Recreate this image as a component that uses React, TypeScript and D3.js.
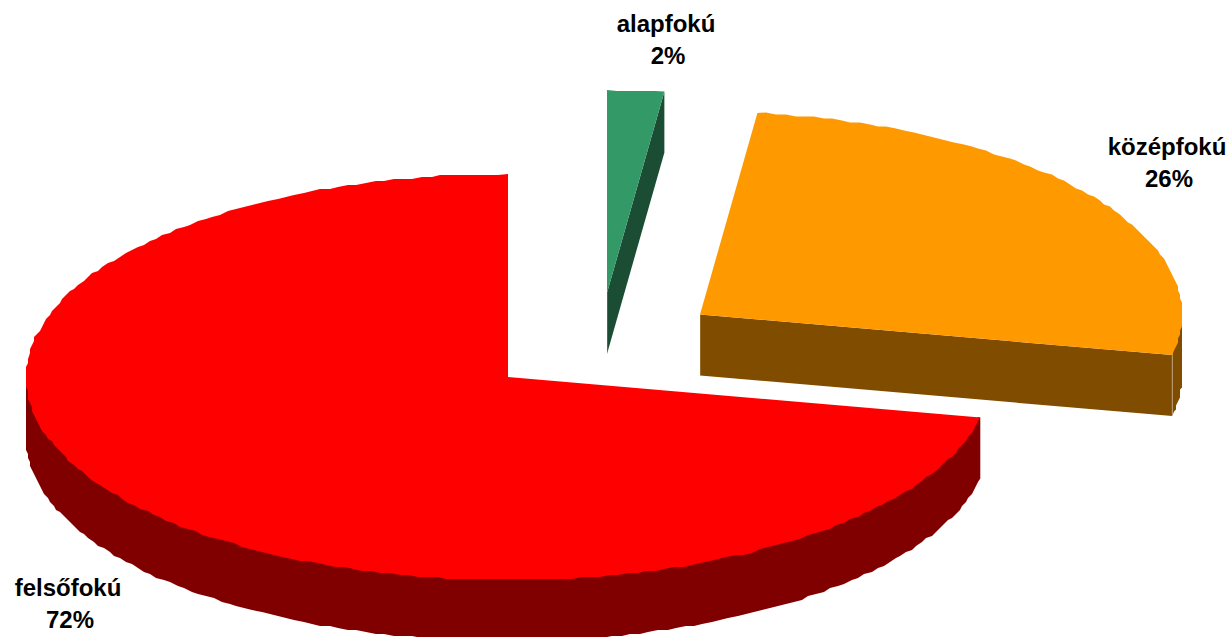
import * as d3 from 'd3';

const categories = ['alapfokú', 'középfokú', 'felsőfokú'];
const values = [1.9, 26.3, 71.8];
const topColors = ['#339966', '#FF9900', '#FF0000'];
const sideColors = ['#1A4D33', '#804D00', '#800000'];

const width = 1232;
const height = 637;
const rx = 482;
const ry = 203;
const depth = 61;

// slice centres, the two small slices are pulled out of the pie
const centers = [
  [607, 293],
  [700, 314.5],
  [508, 377],
];

const labelPos = [
  [666, 32],
  [1167, 155],
  [68, 596],
];

const pie = d3.pie<number>().sort(null);
const slices = pie(values);
const line = d3.line();

// point on the ellipse, angle in radians clockwise from the top
const px = (a: number) => rx * Math.sin(a);
const py = (a: number) => -ry * Math.cos(a);

// the rim is drawn as a rough polygon, snapped to a coarse grid
const snap = (v: number) => Math.round(v / 2) * 2;

function arcPoints(a0: number, a1: number) {
  const n = Math.max(2, Math.ceil((a1 - a0) * 50));
  return d3.range(n + 1).map(i => {
    const a = a0 + ((a1 - a0) * i) / n;
    if (i === 0 || i === n) return [px(a), py(a)] as [number, number];
    return [snap(px(a)), snap(py(a))] as [number, number];
  });
}

function topPath(a0: number, a1: number) {
  return line([[0, 0], ...arcPoints(a0, a1)]) + 'Z';
}

// outer wall: only the front half of the ellipse can be seen
function wallPath(a0: number, a1: number) {
  const from = Math.max(a0, Math.PI / 2);
  const to = Math.min(a1, (3 * Math.PI) / 2);
  if (to <= from) return '';
  const pts = arcPoints(from, to);
  // upper edge goes a bit under the top face so no white seam shows
  const upper = pts.map((p, i) =>
    i === 0 || i === pts.length - 1 ? p : ([p[0], p[1] - 4] as [number, number])
  );
  const lower = pts.map(p => [p[0], p[1] + depth] as [number, number]).reverse();
  return line([...upper, ...lower]) + 'Z';
}

// flat cut wall running from the centre to the rim at angle a
function cutPath(a: number) {
  const pts: [number, number][] = [
    [0, 0],
    [px(a), py(a)],
    [px(a), py(a) + depth],
    [0, depth],
  ];
  return line(pts) + 'Z';
}

export default function App() {
  return (
    <svg
      width={width}
      height={height}
      style={{ position: 'absolute', left: 0, top: 0, background: '#fff' }}
    >
      {slices.map((s, i) => {
        const [cx, cy] = centers[i];
        const showCut = s.endAngle < Math.PI;
        return (
          <g key={categories[i]} transform={`translate(${cx},${cy})`}>
            {s.endAngle > Math.PI / 2 && (
              <path d={wallPath(s.startAngle, s.endAngle)} fill={sideColors[i]} />
            )}
            {/* right slices show the cut at their end, the big one does not */}
            {showCut && <path d={cutPath(s.endAngle)} fill={sideColors[i]} />}
            {s.endAngle > Math.PI / 2 && showCut && (
              <line
                x1={px(s.endAngle)}
                x2={px(s.endAngle)}
                y1={py(s.endAngle)}
                y2={py(s.endAngle) + depth}
                stroke="#fff"
                strokeOpacity={0.35}
              />
            )}
            {showCut && (
              <line x1={0} x2={0} y1={0} y2={depth} stroke="#fff" strokeOpacity={0.35} />
            )}
            <path d={topPath(s.startAngle, s.endAngle)} fill={topColors[i]} />
          </g>
        );
      })}
      {categories.map((c, i) => (
        <text
          key={c}
          x={labelPos[i][0]}
          y={labelPos[i][1]}
          textAnchor="middle"
          fontFamily="'Liberation Sans', Arial, sans-serif"
          fontWeight="bold"
          fontSize={24}
          fill="#000"
        >
          <tspan x={labelPos[i][0]}>{c}</tspan>
          <tspan x={labelPos[i][0] + 2} dy={32}>{Math.round(values[i])}%</tspan>
        </text>
      ))}
    </svg>
  );
}
